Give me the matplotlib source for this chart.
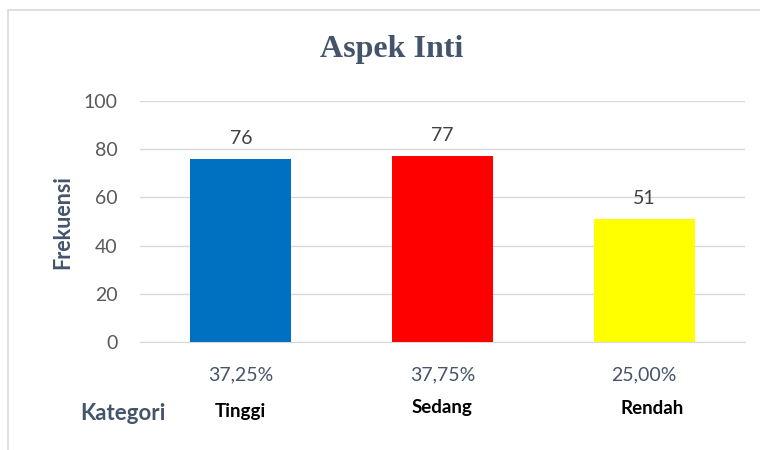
import matplotlib.pyplot as plt
from matplotlib.patches import Rectangle

kategori = ['Tinggi', 'Sedang', 'Rendah']
frekuensi = [76, 77, 51]
persen = ['37,25%', '37,75%', '25,00%']
warna = ['#0070C0', '#FF0000', '#FFFF00']

fig = plt.figure(figsize=(7.6, 4.5), dpi=100)
W, H = 760, 450
ax = fig.add_axes([140 / W, 1 - 342 / H, 605 / W, 241 / H])

x = range(len(kategori))
ax.bar(x, frekuensi, width=0.5, color=warna, zorder=3)
ax.set_xlim(-0.5, 2.5)
ax.set_ylim(0, 100)
ax.set_yticks([0, 20, 40, 60, 80, 100])
ax.grid(axis='y', color='#D9D9D9', linewidth=1, zorder=0)
for s in ['top', 'right', 'left']:
    ax.spines[s].set_visible(False)
ax.spines['bottom'].set_color('#D9D9D9')
ax.tick_params(axis='y', length=0, pad=16, labelsize=14, labelcolor='#595959')
ax.tick_params(axis='x', length=0)
ax.set_xticks([])
for lbl in ax.get_yticklabels():
    lbl.set_family('Lato')

# nilai di atas batang
for i, v in enumerate(frekuensi):
    ax.text(i, v + 5, str(v), ha='center', va='bottom', fontsize=14,
            color='#404040', family='Lato')

# persentase di bawah sumbu
for i, p in enumerate(persen):
    ax.text(i, -13.5, p, ha='center', va='center', fontsize=14,
            color='#44546A', family='Lato')

# label kategori
kat_x = [240, 442, 652]
kat_y = [412, 408, 408]
for k, kx, ky in zip(kategori, kat_x, kat_y):
    fig.text(kx / W, 1 - ky / H, k, ha='center', va='center', fontsize=13.5,
             fontweight='bold', color='black', family='Lato')

fig.text(123 / W, 1 - 413 / H, 'Kategori', ha='center', va='center',
         fontsize=16, fontweight='bold', color='#44546A', family='Lato')
fig.text(63 / W, 1 - 222 / H, 'Frekuensi', ha='center', va='center',
         rotation=90, fontsize=15.5, fontweight='bold', color='#44546A',
         family='Lato')
fig.text(392 / W, 1 - 50 / H, 'Aspek Inti', ha='center', va='center',
         fontsize=23, fontweight='bold', color='#44546A',
         family='Liberation Serif')

# bingkai
fig.patches.append(Rectangle((8 / W, -0.1), 1.0, 1 - 10 / H + 0.1,
                             transform=fig.transFigure, fill=False,
                             edgecolor='#D9D9D9', linewidth=1.2))

fig.savefig('out.png', dpi=100)
